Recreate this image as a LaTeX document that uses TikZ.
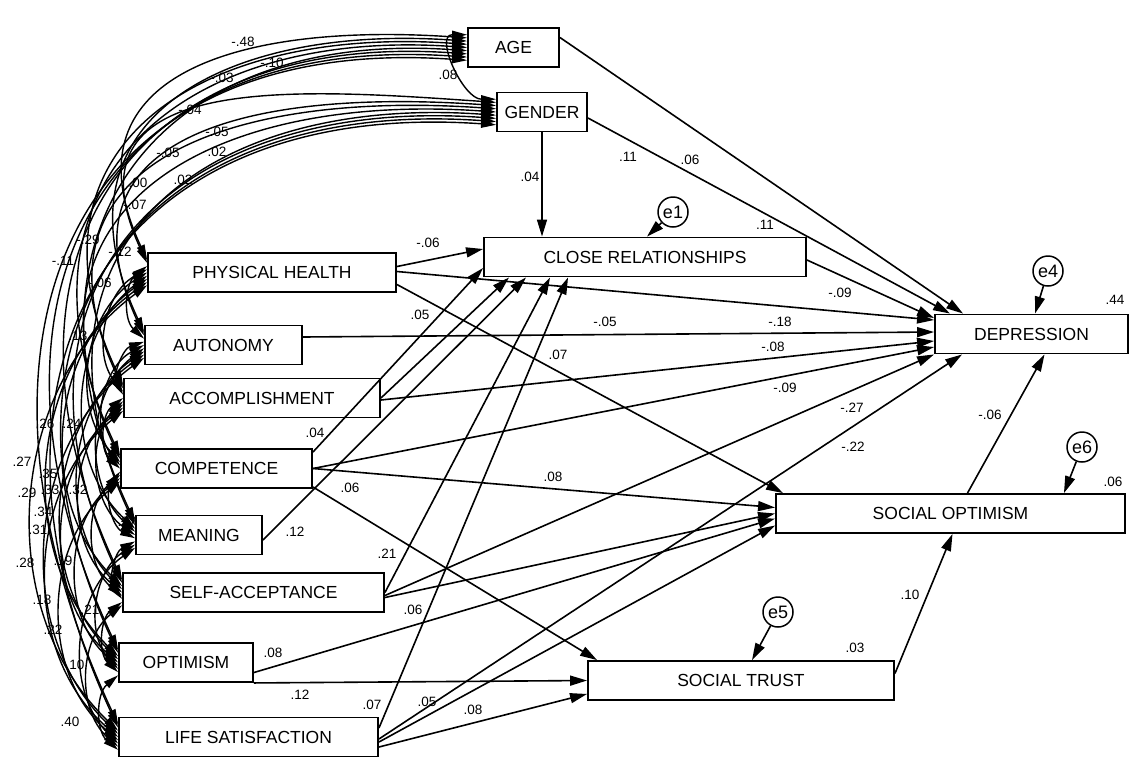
\documentclass[tikz,border=0pt]{standalone}
\usepackage{fontspec}
\setmainfont{Liberation Sans}
\usepackage{tikz}
\usetikzlibrary{
  arrows.meta,
  positioning,
  calc
}

\begin{document}
\begin{tikzpicture}[
        x=1pt, y=-1pt,
        box/.style={draw, line width=1.9pt, minimum height=39pt, inner sep=0pt,
            font=\fontsize{17.5}{19}\selectfont},
        err/.style={draw, circle, line width=1.5pt, minimum size=30pt, inner sep=0pt,
            font=\fontsize{18}{19}\selectfont},
        reg/.style={-{Triangle[length=17pt,width=10pt]}, line width=1.6pt},
        cov/.style={{Triangle[length=15pt,width=8pt]}-{Triangle[length=15pt,width=8pt]}, line width=1.4pt},
        coef/.style={font=\fontsize{13.5}{14}\selectfont, inner sep=0pt}
    ]
        \path[fill=white, use as bounding box] (0,0) rectangle (1129,756);

        % Variáveis exógenas
        \node[box, minimum width=91pt, alias=v1] (age) at (513.5,47.5) {AGE};
        \node[box, minimum width=90pt, alias=v2] (gen) at (542,112) {GENDER};
        \node[box, minimum width=248pt, alias=v3] (ph) at (272,272.5) {PHYSICAL HEALTH};
        \node[box, minimum width=157pt, alias=v4] (aut) at (223.5,345) {AUTONOMY};
        \node[box, minimum width=256pt, alias=v5] (acc) at (252,398) {ACCOMPLISHMENT};
        \node[box, minimum width=191pt, alias=v6] (comp) at (216.5,468.5) {COMPETENCE};
        \node[box, minimum width=126pt, alias=v7] (mean) at (199,535) {MEANING};
        \node[box, minimum width=261pt, alias=v8] (sa) at (253.5,592.5) {SELF-ACCEPTANCE};
        \node[box, minimum width=134pt, alias=v9] (opt) at (186,662.5) {OPTIMISM};
        \node[box, minimum width=259pt, alias=v10] (ls) at (248.5,737) {LIFE SATISFACTION};

        % Variáveis endógenas
        \node[box, minimum width=322pt] (cr) at (645,257) {CLOSE RELATIONSHIPS};
        \node[box, minimum width=193pt] (dep) at (1031.5,334) {DEPRESSION};
        \node[box, minimum width=349pt] (so) at (950.5,513.5) {SOCIAL OPTIMISM};
        \node[box, minimum width=306pt] (st) at (741,680.5) {SOCIAL TRUST};

        % Erros
        \node[err] (e1) at (673,212) {e1};
        \node[err] (e4) at (1048,271) {e4};
        \node[err] (e6) at (1082,447) {e6};
        \node[err] (e5) at (778,612) {e5};

        % Covariâncias
        \foreach \i in {1,...,9}{
            \pgfmathtruncatemacro\inext{\i+1}
            \foreach \j in {\inext,...,10}{
                \pgfmathsetmacro\oi{(\j-6)*3.2}
                \pgfmathsetmacro\oj{(\i-5)*3.2}
                \ifnum\i<3
                    \ifnum\j=2
                        \draw[cov] ($(v\i.west)+(0,\oi)$) to[out=180, in=180, looseness=1.2] ($(v\j.west)+(0,\oj)$);
                    \else
                        \draw[cov] ($(v\i.west)+(0,\oi)$) to[out=176, in=115, looseness=1.4] ($(v\j.west)+(0,\oj)$);
                    \fi
                \else
                    \draw[cov] ($(v\i.west)+(0,\oi)$) to[bend right=50] ($(v\j.west)+(0,\oj)$);
                \fi
            }
        }

        % Caminhos
        \draw[reg] ($(age.east)+(0,-10)$) -- ($(dep.north west)+(29,0)$);
        \draw[reg] ($(gen.east)+(0,6)$) -- ($(dep.north west)+(16,0)$);
        \draw[reg] (gen.south) -- (gen.south |- cr.north);
        \draw[reg] ($(ph.east)+(0,-6)$) -- ($(cr.west)+(0,-8)$);
        \draw[reg] ($(ph.east)+(0,-1)$) -- ($(dep.west)+(0,-14)$);
        \draw[reg] ($(ph.east)+(0,12)$) -- ($(so.north west)+(8,0)$);
        \draw[reg] ($(aut.east)+(0,-8)$) -- ($(dep.west)+(0,-2)$);
        \draw[reg] (acc.east) -- ($(cr.south west)+(26,0)$);
        \draw[reg] ($(acc.east)+(0,2)$) -- ($(dep.west)+(0,7)$);
        \draw[reg] ($(comp.north east)+(0,4)$) -- ($(cr.west)+(0,11)$);
        \draw[reg] (comp.east) -- ($(dep.west)+(0,13)$);
        \draw[reg] (comp.east) -- ($(so.west)+(0,-6)$);
        \draw[reg] ($(comp.south east)+(0,-2)$) -- ($(st.north west)+(10,0)$);
        \draw[reg] ($(mean.east)+(0,5)$) -- ($(cr.south west)+(43,0)$);
        \draw[reg] (sa.east) -- ($(cr.south west)+(67,0)$);
        \draw[reg] ($(sa.east)+(0,3)$) -- (dep.south west);
        \draw[reg] ($(sa.east)+(0,5)$) -- (so.west);
        \draw[reg] ($(opt.east)+(0,10)$) -- ($(so.west)+(0,5)$);
        \draw[reg] (opt.south east) -- (st.west);
        \draw[reg] ($(ls.east)+(0,-9)$) -- ($(cr.south west)+(85,0)$);
        \draw[reg] ($(ls.east)+(0,2)$) -- ($(dep.south west)+(28,0)$);
        \draw[reg] ($(ls.east)+(0,5)$) -- ($(so.west)+(0,12)$);
        \draw[reg] ($(ls.east)+(0,10)$) -- ($(st.south west)+(0,-7)$);
        \draw[reg] ($(cr.east)+(0,3)$) -- ($(dep.west)+(0,-16)$);
        \draw[reg] ($(so.north)+(17,0)$) -- ($(dep.south)+(13,0)$);
        \draw[reg] ($(st.east)+(0,-7)$) -- ($(so.south)+(2,0)$);
        \draw[reg] (e1) -- ($(cr.north)+(2,0)$);
        \draw[reg] (e4) -- ($(dep.north)+(3.5,0)$);
        \draw[reg] (e6) -- ($(so.north east)+(-62,0)$);
        \draw[reg] (e5) -- ($(st.north)+(11,0)$);

        % Coeficientes
        \foreach \x/\y/\t [count=\k] in {
            690/160/.06, 628/157/.11, 530/177/.04, 428/243/-.06, 765/225/.11,
            420/315/.05, 605/322/-.05, 558/355/.07, 315/433/.04, 350/488/.06,
            295/532/.12, 387/554/.21, 413/610/.06, 273/653/.08, 300/695/.12,
            372/705/.07, 427/702/.05, 473/710/.08, 553/477/.08, 840/293/-.09,
            780/322/-.18, 773/347/-.08, 785/388/-.09, 852/408/-.27, 853/447/-.22,
            1115/300/.44, 990/415/-.06, 1113/482/.06, 910/595/.10, 855/648/.03}
            \node[coef] (p\k) at (\x,\y) {\t};

        % Coeficientes das covariâncias
        \foreach \x/\y/\t [count=\k] in {
            243/42/-.48, 272/63/-.10, 222/78/-.03, 448/75/.08, 190/110/-.04,
            217/132/-.05, 217/152/.02, 168/153/-.05, 183/180/.02, 138/183/.00,
            135/205/-.07, 88/240/-.29, 63/261/-.11, 120/252/-.12, 100/283/-.06,
            78/336/.13, 45/424/.26, 72/424/.24, 22/462/.27, 48/474/.35,
            27/493/.29, 50/490/.33, 78/490/.32, 43/512/.34, 38/530/.31,
            127/522/.27, 25/563/.28, 63/561/.19, 42/600/.18, 90/610/.21,
            53/630/.22, 75/665/.10, 70/722/.40}
            \node[coef] (c\k) at (\x,\y) {\t};
    \end{tikzpicture}
\end{document}
